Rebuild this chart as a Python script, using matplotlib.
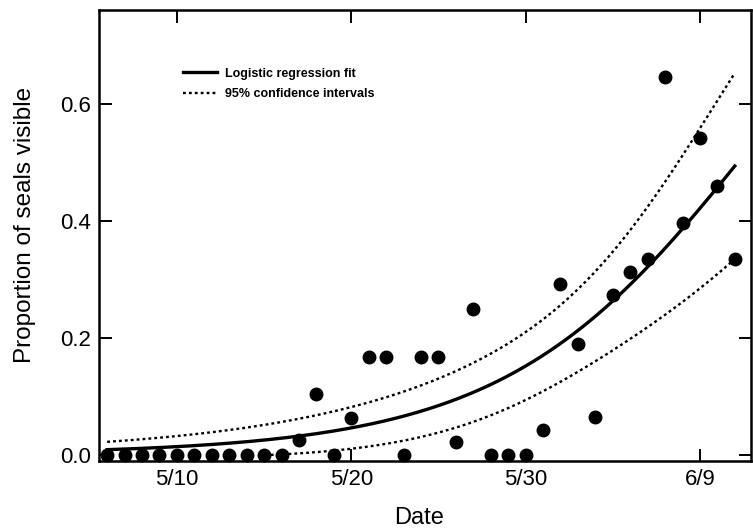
import numpy as np
import pandas as pd
import matplotlib
matplotlib.use('Agg')
import matplotlib.pyplot as plt

plt.rcParams['font.family'] = ['Liberation Sans', 'DejaVu Sans']

# daily proportion of seals visible, 6 May - 11 June
dates = ['5/6', '5/7', '5/8', '5/9', '5/10', '5/11', '5/12', '5/13', '5/14',
         '5/15', '5/16', '5/17', '5/18', '5/19', '5/20', '5/21', '5/22', '5/23',
         '5/24', '5/25', '5/26', '5/27', '5/28', '5/29', '5/30', '5/31', '6/1',
         '6/2', '6/3', '6/4', '6/5', '6/6', '6/7', '6/8', '6/9', '6/10', '6/11']
proportion = [0, 0, 0, 0, 0, 0, 0, 0, 0,
              0, 0, 0.026, 0.105, 0, 0.064, 0.167, 0.167, 0,
              0.167, 0.167, 0.022, 0.25, 0, 0, 0, 0.043, 0.292,
              0.189, 0.065, 0.273, 0.313, 0.335, 0.647, 0.397, 0.542, 0.46, 0.335]

tick_dates = ['5/10', '5/20', '5/30', '6/9']
y_ticks = [0.0, 0.2, 0.4, 0.6]

# logistic fit, logit = a + b*u + c*u^2 with u = days before the last survey
fit_coef = [-0.024, 0.147, 0.00048]
# standard error of the fitted logit around its minimum
se_min = 0.215
se_slope = 0.027
u_se_min = -9.0
z95 = 1.96


def day_number(s):
    month, day = (int(v) for v in s.split('/'))
    return pd.Timestamp(2000, month, day).dayofyear


x = np.array([day_number(d) for d in dates])
y = np.array(proportion)

last = x[-1]
t = np.linspace(x[0], last, 400)
u = t - last
logit = fit_coef[0] + fit_coef[1] * u + fit_coef[2] * u ** 2
p = 1 / (1 + np.exp(-logit))
se = np.sqrt(se_min ** 2 + se_slope ** 2 * (u - u_se_min) ** 2)
half = z95 * p * (1 - p) * se
upper = p + half
lower = p - half
lower = np.where(lower >= 0, lower, np.nan)

fig = plt.figure(figsize=(7.53, 5.31), dpi=100)
ax = fig.add_axes([99 / 753, 1 - 461 / 531, 651.5 / 753, 451 / 531])

dots = (0, (1.2, 1.3))
ax.plot(t, p, color='black', lw=2.4, label='Logistic regression fit')
ax.plot(t, upper, color='black', lw=1.7, linestyle=dots, label='95% confidence intervals')
ax.plot(t, lower, color='black', lw=1.7, linestyle=dots)
ax.plot(x, y, 'o', color='black', ms=9, clip_on=False)

ax.set_xlim(day_number('5/10') - 4.47, last + 0.9)
ax.set_ylim(-0.0103, 0.7607)
ax.set_xticks([day_number(d) for d in tick_dates])
ax.set_xticklabels(tick_dates)
ax.set_yticks(y_ticks)
ax.set_yticklabels([f'{v:.1f}' for v in y_ticks])

for s in ax.spines.values():
    s.set_linewidth(1.8)
ax.tick_params(direction='in', length=9, width=1.4, top=True, right=True,
               labelsize=16, pad=6)

ax.set_xlabel('Date', fontsize=17)
ax.set_ylabel('Proportion of seals visible', fontsize=17.5)
ax.xaxis.set_label_coords(0.491, -0.103)
ax.yaxis.set_label_coords(-0.097, 0.523)

ax.legend(loc='upper left', bbox_to_anchor=(0.129, 0.872), frameon=False,
          borderpad=0, borderaxespad=0, handlelength=2.7, handletextpad=0.65,
          labelspacing=0.7, prop={'size': 9, 'weight': 'bold'})

fig.savefig('out.png', dpi=100)
